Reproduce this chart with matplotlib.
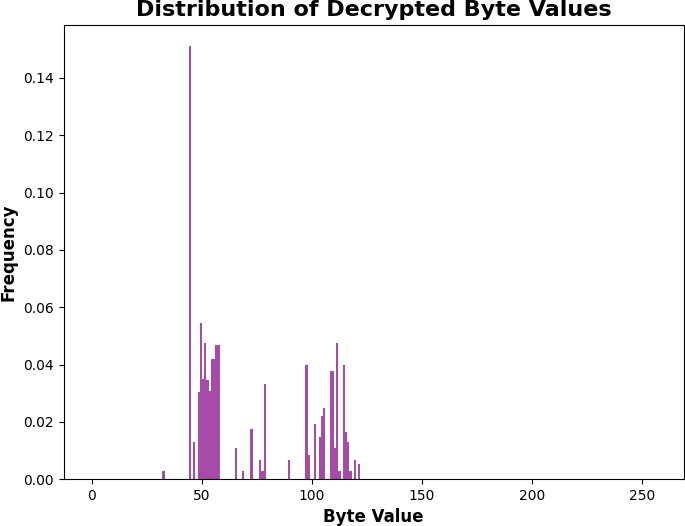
import matplotlib
matplotlib.use("Agg")
import matplotlib.pyplot as plt

# byte values seen in the decrypted output and their relative frequency
byte_values = [32, 44, 46, 48, 49, 50, 51, 52, 53, 54, 55, 56, 57,
               65, 68, 72, 76, 77, 78, 89, 97, 98, 101, 103, 104, 105,
               108, 109, 110, 111, 112, 114, 115, 116, 117, 119, 121]
frequencies = [0.0028, 0.151, 0.0128, 0.0305, 0.0546, 0.0348, 0.0476, 0.0346, 0.0308, 0.0418, 0.0418, 0.0468, 0.0468,
               0.0109, 0.0028, 0.0175, 0.0068, 0.0028, 0.0332, 0.0068, 0.0400, 0.0084, 0.0191, 0.0146, 0.0221, 0.0249,
               0.0376, 0.0376, 0.0109, 0.0475, 0.0028, 0.0400, 0.0166, 0.0128, 0.0028, 0.0068, 0.0052]

fig = plt.figure(figsize=(6.85, 5.26), dpi=100)
ax = fig.add_subplot(111)
ax.hist(byte_values, bins=256, range=(0, 256), weights=frequencies,
        color='purple', alpha=0.7)
ax.set_title('Distribution of Decrypted Byte Values', fontsize=16, fontweight='bold')
ax.set_xlabel('Byte Value', fontsize=12, fontweight='bold')
ax.set_ylabel('Frequency', fontsize=12, fontweight='bold')
fig.subplots_adjust(left=0.093, right=0.998, top=0.953, bottom=0.089)
fig.savefig('out.png')
